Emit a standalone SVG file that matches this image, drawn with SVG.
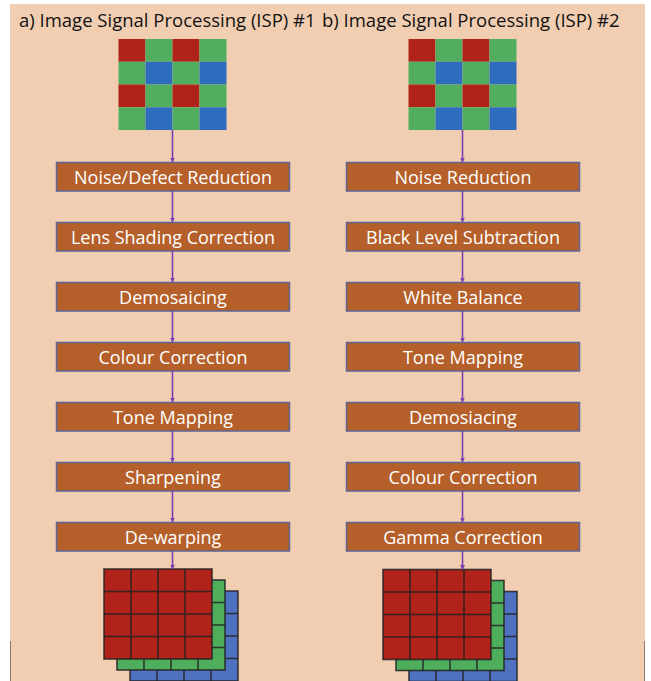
<svg xmlns="http://www.w3.org/2000/svg" width="651" height="681" viewBox="0 0 651 681">
<defs>
<style>
.title{font-family:"Open Sans","Liberation Sans",sans-serif;font-size:18.5px;fill:#111}
.box rect{fill:#B5602A;stroke:#5C6697;stroke-width:1.5}
.box text{font-family:"Open Sans","Liberation Sans",sans-serif;font-size:18px;fill:#fff;text-anchor:middle}
.conn line{stroke:#7B3FB0;stroke-width:1.6;marker-end:url(#ah)}
.gl{stroke:#222;stroke-width:1.6;stroke-opacity:0.85}
</style>
<marker id="ah" viewBox="0 0 10 10" refX="9" refY="5" markerWidth="5" markerHeight="5" orient="auto" markerUnits="userSpaceOnUse"><path d="M0,0 L10,5 L0,10 z" fill="#7B3FB0"/></marker>
<g id="quad">
<rect x="0" y="0" width="27" height="22.75" fill="#B0231A"/>
<rect x="27" y="0" width="27" height="22.75" fill="#50AE5E"/>
<rect x="0" y="22.75" width="27" height="22.75" fill="#50AE5E"/>
<rect x="27" y="22.75" width="27" height="22.75" fill="#2E6CBE"/>
</g>
<g id="bayer">
<use href="#quad"/>
<use href="#quad" x="54"/>
<use href="#quad" y="45.5"/>
<use href="#quad" x="54" y="45.5"/>
</g>
<g id="stack">
<rect x="26" y="22" width="108" height="90" fill="#4E72BF" class="gl"/>
<path d="M26,44.5H134M26,67H134M26,89.5H134M53,22V112M80,22V112M107,22V112" class="gl" fill="none"/>
<rect x="13" y="11" width="108" height="90" fill="#4FAE5C" class="gl"/>
<path d="M13,33.5H121M13,56H121M13,78.5H121M40,11V101M67,11V101M94,11V101" class="gl" fill="none"/>
<rect x="0" y="0" width="108" height="90" fill="#B0221A" class="gl"/>
<path d="M0,22.5H108M0,45H108M0,67.5H108M27,0V90M54,0V90M81,0V90" class="gl" fill="none"/>
</g>
</defs>
<rect x="10" y="4" width="635" height="677" fill="#F1CEB2"/>
<line x1="10.5" y1="641" x2="10.5" y2="681" stroke="#8A7A70" stroke-width="1"/>
<line x1="644.5" y1="641" x2="644.5" y2="681" stroke="#8A7A70" stroke-width="1"/>
<text class="title" x="19" y="27">a) Image Signal Processing (ISP) #1</text>
<text class="title" x="322" y="27">b) Image Signal Processing (ISP) #2</text>

<g id="bayer-a"><use href="#bayer" transform="translate(118.5,39)"/></g>
<g id="bayer-b"><use href="#bayer" transform="translate(408.5,39)"/></g>

<g id="a1" class="box"><rect x="56.5" y="162.5" width="233" height="28.5"/><text x="173" y="183.5">Noise/Defect Reduction</text></g>
<g id="a2" class="box"><rect x="56.5" y="222.5" width="233" height="28.5"/><text x="173" y="243.5">Lens Shading Correction</text></g>
<g id="a3" class="box"><rect x="56.5" y="282.5" width="233" height="28.5"/><text x="173" y="303.5">Demosaicing</text></g>
<g id="a4" class="box"><rect x="56.5" y="342.5" width="233" height="28.5"/><text x="173" y="363.5">Colour Correction</text></g>
<g id="a5" class="box"><rect x="56.5" y="402.5" width="233" height="28.5"/><text x="173" y="423.5">Tone Mapping</text></g>
<g id="a6" class="box"><rect x="56.5" y="462.5" width="233" height="28.5"/><text x="173" y="483.5">Sharpening</text></g>
<g id="a7" class="box"><rect x="56.5" y="522.5" width="233" height="28.5"/><text x="173" y="543.5">De-warping</text></g>

<g id="b1" class="box"><rect x="346.5" y="162.5" width="233" height="28.5"/><text x="463" y="183.5">Noise Reduction</text></g>
<g id="b2" class="box"><rect x="346.5" y="222.5" width="233" height="28.5"/><text x="463" y="243.5">Black Level Subtraction</text></g>
<g id="b3" class="box"><rect x="346.5" y="282.5" width="233" height="28.5"/><text x="463" y="303.5">White Balance</text></g>
<g id="b4" class="box"><rect x="346.5" y="342.5" width="233" height="28.5"/><text x="463" y="363.5">Tone Mapping</text></g>
<g id="b5" class="box"><rect x="346.5" y="402.5" width="233" height="28.5"/><text x="463" y="423.5">Demosiacing</text></g>
<g id="b6" class="box"><rect x="346.5" y="462.5" width="233" height="28.5"/><text x="463" y="483.5">Colour Correction</text></g>
<g id="b7" class="box"><rect x="346.5" y="522.5" width="233" height="28.5"/><text x="463" y="543.5">Gamma Correction</text></g>

<g id="rgb-a"><use href="#stack" transform="translate(104,569)"/></g>
<g id="rgb-b"><use href="#stack" transform="translate(383,569.5)"/></g>

<g id="connectors" class="conn">
<line x1="172.5" y1="130" x2="172.5" y2="162"/>
<line x1="172.5" y1="191" x2="172.5" y2="222"/>
<line x1="172.5" y1="251" x2="172.5" y2="282"/>
<line x1="172.5" y1="311" x2="172.5" y2="342"/>
<line x1="172.5" y1="371" x2="172.5" y2="402"/>
<line x1="172.5" y1="431" x2="172.5" y2="462"/>
<line x1="172.5" y1="491" x2="172.5" y2="522"/>
<line x1="172.5" y1="551" x2="172.5" y2="569"/>
<line x1="462.5" y1="130" x2="462.5" y2="162"/>
<line x1="462.5" y1="191" x2="462.5" y2="222"/>
<line x1="462.5" y1="251" x2="462.5" y2="282"/>
<line x1="462.5" y1="311" x2="462.5" y2="342"/>
<line x1="462.5" y1="371" x2="462.5" y2="402"/>
<line x1="462.5" y1="431" x2="462.5" y2="462"/>
<line x1="462.5" y1="491" x2="462.5" y2="522"/>
<line x1="462.5" y1="551" x2="462.5" y2="569.5"/>
</g>
</svg>
